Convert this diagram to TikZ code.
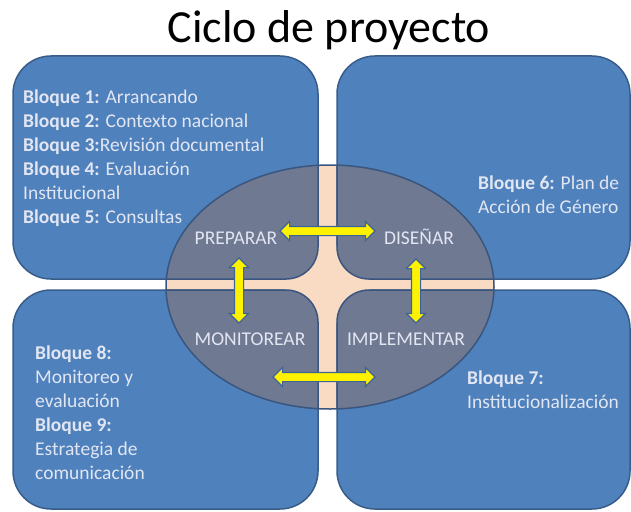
\documentclass[tikz,border=0pt]{standalone}
\usepackage{fontspec}
\setmainfont{Carlito}
\usetikzlibrary{shapes.arrows}
\definecolor{boxblue}{RGB}{79,129,189}
\definecolor{boxline}{RGB}{56,93,138}
\definecolor{peach}{RGB}{249,219,196}
\definecolor{wedgefill}{RGB}{111,121,146}
\definecolor{wedgeline}{RGB}{58,86,126}
\definecolor{txtc}{RGB}{226,230,242}
\definecolor{arrline}{RGB}{60,100,150}
\begin{document}
\begin{tikzpicture}[x=1pt,y=-1pt,
  blk/.style={draw=boxline, fill=boxblue, line width=1.5pt, rounded corners=38pt, inner sep=0pt},
  wdg/.style={draw=wedgeline, fill=wedgefill, line width=1.5pt, rounded corners=32pt},
  dbl/.style={double arrow, draw=arrline, fill=yellow, line width=1.2pt, inner xsep=0pt, inner ysep=4pt, double arrow head extend=5pt},
  txt/.style={text=txtc, font=\fontsize{19.5}{24}\selectfont, inner sep=0pt, anchor=base west},
  lbl/.style={text=txtc, font=\fontsize{19.5}{24}\selectfont, inner sep=0pt, anchor=base}]
\useasboundingbox (0,0) rectangle (631,511);
\fill[white] (0,0) rectangle (631,511);
% title
\node[font=\fontsize{46}{50}\selectfont, anchor=base, inner sep=0pt] (title) at (329,42) {Ciclo de proyecto};
% peach background
\fill[peach] (330,287) ellipse [x radius=164, y radius=122];
% boxes
\node[blk, minimum width=305pt, minimum height=223pt] (tl) at (165.5,167.5) {};
\node[blk, minimum width=293pt, minimum height=223pt] (tr) at (483.5,167.5) {};
\node[blk, minimum width=305pt, minimum height=219pt] (bl) at (165.5,399.5) {};
\node[blk, minimum width=293pt, minimum height=219pt] (br) at (483.5,399.5) {};
% wedges
\begin{scope}
\clip (330,287) ellipse [x radius=164, y radius=122];
\draw[wdg] (100,100) rectangle (318,279);
\draw[wdg] (337,100) rectangle (560,279);
\draw[wdg] (100,290) rectangle (318,480);
\draw[wdg] (337,290) rectangle (560,480);
\end{scope}
\draw[wedgeline, line width=1.5pt] (330,287) ellipse [x radius=164, y radius=122];
% arrows
\node[dbl, minimum height=95pt] (a1) at (327.5,231) {};
\node[dbl, minimum height=65pt, rotate=90] (a2) at (239,290.5) {};
\node[dbl, minimum height=64pt, rotate=90] (a3) at (416,291) {};
\node[dbl, minimum height=102pt] (a4) at (324,377) {};
% labels
\node[lbl] (prep) at (236,244) {PREPARAR};
\node[lbl] (dis) at (419,244) {DISEÑAR};
\node[lbl] (mon) at (250,345) {MONITOREAR};
\node[lbl] (imp) at (406,345) {IMPLEMENTAR};
% texts top-left
\node[txt] (t1) at (23,103) {\textbf{Bloque 1:} Arrancando};
\node[txt] (t2) at (23,127) {\textbf{Bloque 2:} Contexto nacional};
\node[txt] (t3) at (23,151) {\textbf{Bloque 3:}Revisión documental};
\node[txt] (t4) at (23,175) {\textbf{Bloque 4:} Evaluación};
\node[txt] (t5) at (23,199) {Institucional};
\node[txt] (t6) at (23,223) {\textbf{Bloque 5:} Consultas};
% top-right
\node[txt] (r1) at (478,189) {\textbf{Bloque 6:} Plan de};
\node[txt] (r2) at (478,213) {Acción de Género};
% bottom-left
\node[txt] (l1) at (35,359) {\textbf{Bloque 8:}};
\node[txt] (l2) at (35,383) {Monitoreo y};
\node[txt] (l3) at (35,407) {evaluación};
\node[txt] (l4) at (35,431) {\textbf{Bloque 9:}};
\node[txt] (l5) at (35,455) {Estrategia de};
\node[txt] (l6) at (35,479) {comunicación};
% bottom-right
\node[txt] (m1) at (467,384) {\textbf{Bloque 7:}};
\node[txt] (m2) at (467,408) {Institucionalización};
\end{tikzpicture}
\end{document}
